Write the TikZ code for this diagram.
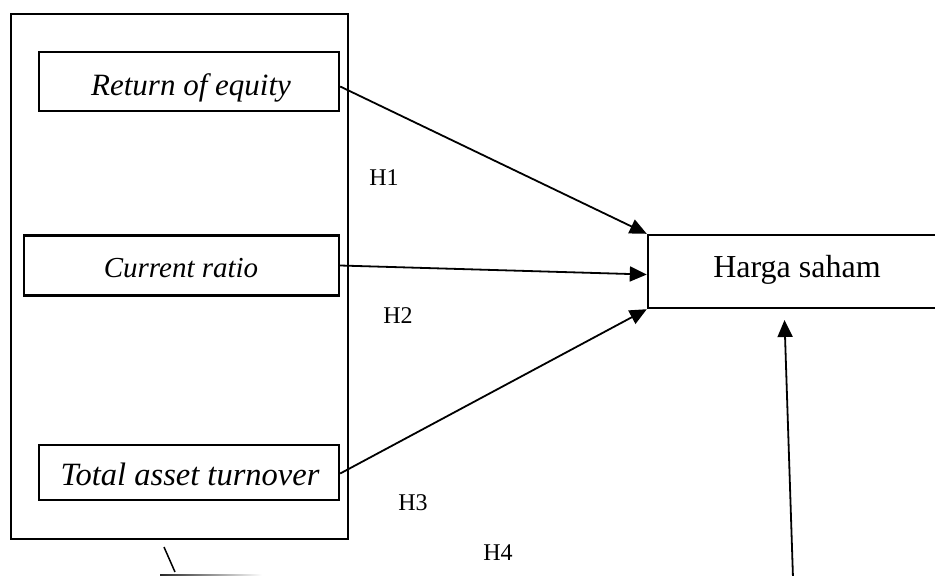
\documentclass[tikz,border=0pt]{standalone}
\usepackage{fontspec}
\setmainfont{Liberation Serif}
\usetikzlibrary{arrows.meta,calc}
\begin{document}
\begin{tikzpicture}[x=1pt,y=-1pt,
  box/.style={draw,line width=2.4pt,inner sep=0pt},
  vartext/.style={anchor=base,inner sep=0pt,font=\fontsize{31}{36}\selectfont\itshape},
  hlabel/.style={anchor=base,font=\fontsize{24}{28}\selectfont,inner sep=0pt},
  conn/.style={line width=1.8pt,-{Triangle[length=17pt,width=15pt]}}]
\useasboundingbox (0,0) rectangle (935,576);
\clip (0,0) rectangle (935,576);
% outer frame
\node[box,minimum width=337,minimum height=525] (frame) at (179.5,276.5) {};
% variable boxes
\node[box,minimum width=300,minimum height=59] (roe) at (189,81.5) {};
\node[box,minimum width=315,minimum height=60] (cr) at (181.5,265.5) {};
\node[box,minimum width=300,minimum height=55] (tat) at (189,472.5) {};
\node[box,minimum width=302,minimum height=73] (hs) at (799,271.5) {};
% texts
\node[vartext] (roet) at (191,95) {Return of equity};
\node[vartext,font=\fontsize{29}{34}\selectfont\itshape] (crt) at (181,277) {Current ratio};
\node[vartext,font=\fontsize{32.5}{38}\selectfont\itshape] (tatt) at (190,485) {Total asset turnover};
\node[anchor=base,inner sep=0pt,font=\fontsize{32}{38}\selectfont] (hst) at (797,277) {Harga saham};
% labels
\node[hlabel] (h1) at (384,185) {H1};
\node[hlabel] (h2) at (398,323) {H2};
\node[hlabel] (h3) at (413,510) {H3};
\node[hlabel] (h4) at (498,560) {H4};
% connectors
\draw[conn] ($(roe.east)+(0,5)$) -- (hs.north west);
\draw[conn] (cr.east) -- ($(hs.west)+(0,3)$);
\draw[conn] ($(tat.east)+(0,1)$) -- (hs.south west);
\coordinate (h4start) at (793,578);
\coordinate (h4end) at (784.5,320);
\draw[conn] (h4start) -- (h4end);
% stray marks at the bottom
\coordinate (s1) at (164,547);
\coordinate (s2) at (175,572);
\draw[line width=1.5pt] (s1) -- (s2);
\shade[left color=black!85,right color=white] (160,574) rectangle (262,576);
\end{tikzpicture}
\end{document}
